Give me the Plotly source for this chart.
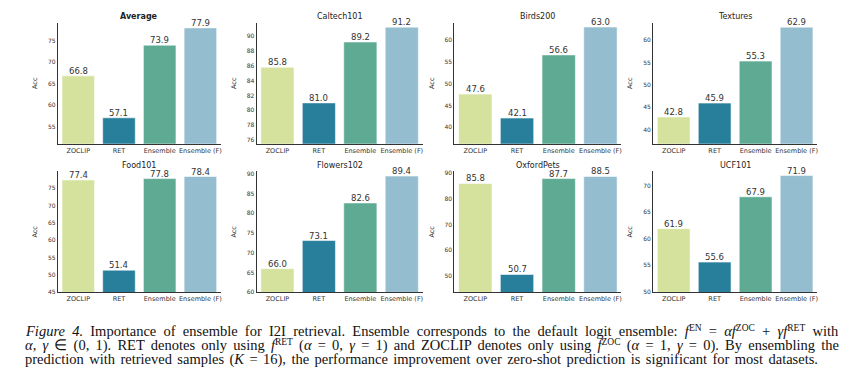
import json
import plotly.graph_objects as go

# ---------------- data ----------------
methods = ["ZOCLIP", "RET", "Ensemble", "Ensemble (F)"]
datasets = ["Average", "Caltech101", "Birds200", "Textures",
            "Food101", "Flowers102", "OxfordPets", "UCF101"]
average = [66.8, 57.1, 73.9, 77.9]
caltech101 = [85.8, 81.0, 89.2, 91.2]
birds200 = [47.6, 42.1, 56.6, 63.0]
textures = [42.8, 45.9, 55.3, 62.9]
food101 = [77.4, 51.4, 77.8, 78.4]
flowers102 = [66.0, 73.1, 82.6, 89.4]
oxfordpets = [85.8, 50.7, 87.7, 88.5]
ucf101 = [61.9, 55.6, 67.9, 71.9]
values = [average, caltech101, birds200, textures,
          food101, flowers102, oxfordpets, ucf101]

# ---------------- styling / layout ----------------
colors = ["#D4E29E", "#287F9C", "#5EAA93", "#94BDD0"]
y_ranges = [(51.1, 79.1), (75.5, 91.8), (36.2, 64.0), (36.8, 63.9),
            (45.0, 79.9), (60.0, 90.6), (43.8, 90.5), (49.9, 72.7)]
y_dticks = [5, 2, 5, 5, 5, 5, 10, 5]

W, H = 851, 382
col_px = [(58, 221), (257, 423), (455, 622), (654, 818)]
row_px = [(20, 143), (171, 294)]

FONT = "DejaVu Sans"
TXT = "#333333"

fig = go.Figure()
layout = dict(
    width=W, height=H,
    margin=dict(l=0, r=0, t=0, b=0),
    paper_bgcolor="white", plot_bgcolor="white",
    showlegend=False,
    font=dict(family=FONT, color=TXT),
    bargap=0.2,
)
annotations = []

for i, (name, vals) in enumerate(zip(datasets, values)):
    r, c = divmod(i, 4)
    k = i + 1
    xa = "x" if k == 1 else f"x{k}"
    ya = "y" if k == 1 else f"y{k}"
    fig.add_trace(go.Bar(
        x=methods, y=vals,
        marker=dict(color=colors, line=dict(color="rgba(255,255,255,0.55)", width=1)),
        cliponaxis=False,
        xaxis=xa, yaxis=ya,
        hoverinfo="x+y",
    ))
    for m, v in zip(methods, vals):
        annotations.append(dict(
            text=f"{v:.1f}", x=m, y=v, xref=xa, yref=ya,
            xanchor="center", yanchor="bottom", yshift=-2, showarrow=False,
            font=dict(family=FONT, size=8.5, color=TXT),
        ))
    x0, x1 = col_px[c]
    top, bot = row_px[r]
    layout["xaxis" if k == 1 else f"xaxis{k}"] = dict(
        domain=[x0 / W, x1 / W], anchor=ya,
        showline=True, linecolor="#333333", linewidth=1.4,
        showgrid=False, zeroline=False, ticks="",
        tickfont=dict(family=FONT, size=6.5, color=TXT),
        range=[-0.5, 3.5],
    )
    layout["yaxis" if k == 1 else f"yaxis{k}"] = dict(
        domain=[1 - bot / H, 1 - top / H], anchor=xa,
        range=list(y_ranges[i]), dtick=y_dticks[i], tick0=0,
        showline=True, linecolor="#333333", linewidth=1.4,
        showgrid=False, zeroline=False, ticks="",
        tickfont=dict(family=FONT, size=6, color=TXT),
        title=dict(text="Acc", font=dict(family=FONT, size=6.5, color=TXT), standoff=9),
    )
    title_text = f"<b>{name}</b>" if name == "Average" else name
    annotations.append(dict(
        text=title_text, xref="paper", yref="paper",
        x=(x0 + x1) / 2 / W, y=1 - (top - 6) / H,
        xanchor="center", yanchor="middle", showarrow=False,
        font=dict(family=FONT, size=8, color="#222222"),
    ))

# ---------------- caption ----------------
SERIF = "Liberation Serif"
cap_size = 14.5
cap_color = "#111111"


def sup(s):
    return f'<span style="font-size:9.5px;baseline-shift:5px">{s}</span>'


caption_lines = [
    "<i>Figure 4.</i> Importance of ensemble for I2I retrieval. Ensemble corresponds to the default logit ensemble: "
    f"<i>f</i>{sup('EN')} = <i>αf</i>{sup('ZOC')} + <i>γf</i>{sup('RET')} with",
    f"<i>α</i>, <i>γ</i> ∈ (0, 1). RET denotes only using <i>f</i>{sup('RET')} (<i>α</i> = 0, <i>γ</i> = 1) and "
    f"ZOCLIP denotes only using <i>f</i>{sup('ZOC')} (<i>α</i> = 1, <i>γ</i> = 0). By ensembling the",
    "prediction with retrieved samples (<i>K</i> = 16), the performance improvement over zero-shot prediction "
    "is significant for most datasets.",
]
line_y = [333, 348, 362.5]
line_width = [814, 814, 793]  # justified widths in px
cap_left = 23
justify = {}
for text, py, wpx in zip(caption_lines, line_y, line_width):
    justify[str(len(annotations))] = wpx
    annotations.append(dict(
        text=text, xref="paper", yref="paper", x=cap_left / W, y=1 - py / H,
        xanchor="left", yanchor="middle", align="left", showarrow=False,
        font=dict(family=SERIF, size=cap_size, color=cap_color),
    ))

layout["annotations"] = annotations
fig.update_layout(**layout)

post = """
document.body.style.margin='0';
document.body.style.overflow='hidden';
(function(){
  var gd = document.getElementById('{plot_id}');
  var targets = TARGETS;
  function just(){
    gd.querySelectorAll('g.annotation').forEach(function(g){
      var idx = g.getAttribute('data-index');
      if (idx === null || !(idx in targets)) return;
      var t = g.querySelector('text.annotation-text');
      if (!t) return;
      t.style.wordSpacing = '0px';
      var w = t.getBBox().width;
      var n = (t.textContent.match(/ /g) || []).length;
      if (n > 0 && targets[idx] > w) t.style.wordSpacing = ((targets[idx] - w) / n) + 'px';
    });
  }
  just(); setTimeout(just, 100); setTimeout(just, 500);
  if (gd.on) gd.on('plotly_afterplot', just);
})();
""".replace("TARGETS", json.dumps(justify))

fig.write_html(
    "out.html",
    config={"displayModeBar": False},
    post_script=post,
)
